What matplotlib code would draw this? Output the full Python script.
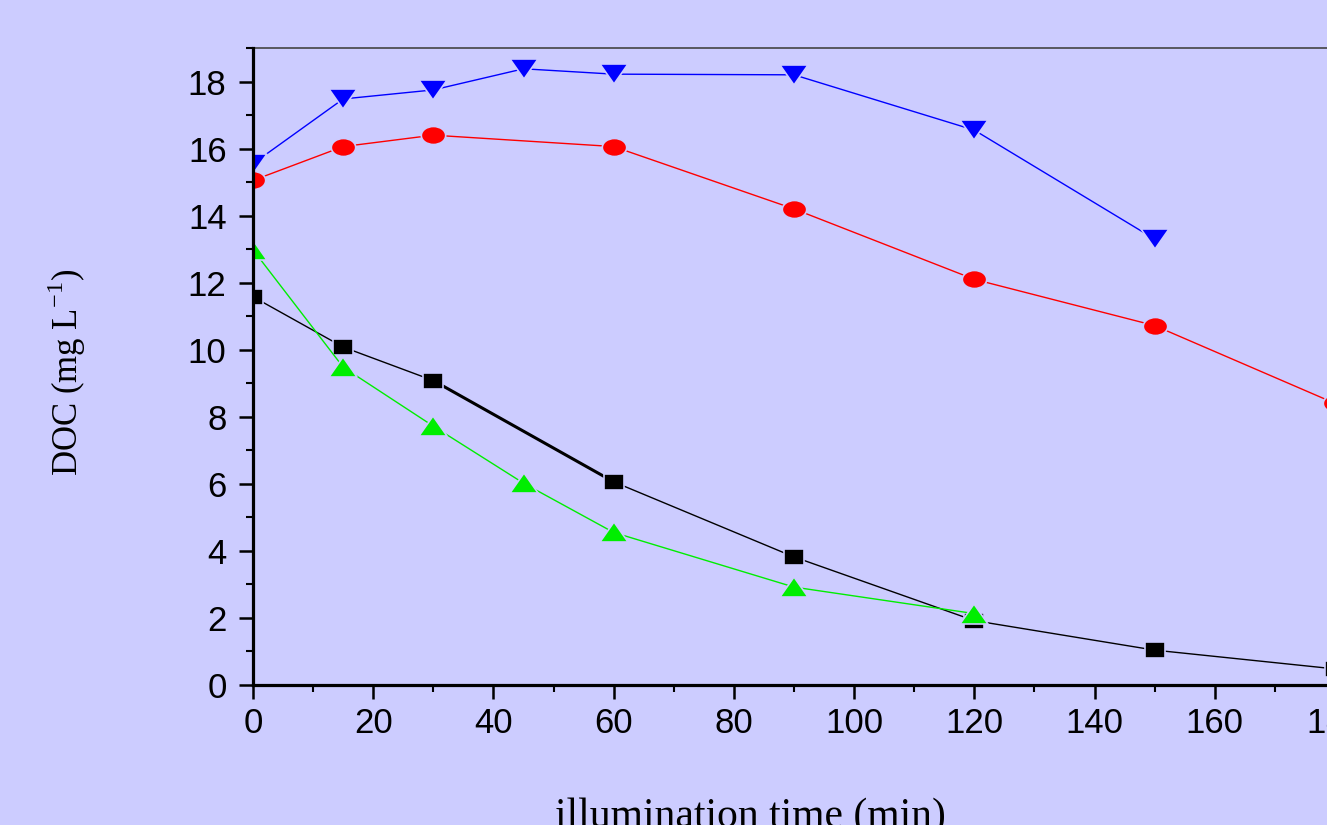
import matplotlib.pyplot as plt
from matplotlib.markers import MarkerStyle
from matplotlib.transforms import Affine2D
from matplotlib.ticker import MultipleLocator

# data
time_blue = [0, 15, 30, 45, 60, 90, 120, 150]
doc_blue = [15.55, 17.48, 17.75, 18.38, 18.22, 18.2, 16.55, 13.3]

time_red = [0, 15, 30, 60, 90, 120, 150, 180]
doc_red = [15.05, 16.06, 16.4, 16.06, 14.2, 12.1, 10.72, 8.4]

time_black = [0, 15, 30, 60, 90, 120, 150, 180]
doc_black = [11.58, 10.08, 9.08, 6.06, 3.82, 1.92, 1.04, 0.48]

time_green = [0, 15, 30, 45, 60, 90, 120]
doc_green = [12.98, 9.48, 7.72, 6.02, 4.55, 2.92, 2.13]

bg = '#ccccff'

# markers in the original are a bit wider than tall
def wide(m, sx):
    return MarkerStyle(m, transform=Affine2D().scale(sx, 1.0))

fig = plt.figure(figsize=(13.27, 8.25), dpi=100, facecolor=bg)
ax = fig.add_axes([253 / 1327, 140 / 825, 1082 / 1327, 637 / 825])
ax.set_facecolor(bg)

style = dict(markeredgecolor=bg, markeredgewidth=1.2, linewidth=1.0, zorder=3)
ax.plot(time_blue, doc_blue, color='#0000ff', marker=wide('v', 1.45), markersize=14,
        markerfacecolor='#0000ff', **style)
ax.plot(time_red, doc_red, color='#ff0000', marker=wide('o', 1.35), markersize=13,
        markerfacecolor='#ff0000', **style)
ax.plot(time_black, doc_black, color='black', marker=wide('s', 1.3), markersize=11.5,
        markerfacecolor='black', **style)
# the 30-60 min black segment is drawn heavier in the original
ax.plot(time_black[2:4], doc_black[2:4], color='black', linewidth=2.2, zorder=2)
ax.plot(time_green, doc_green, color='#00ee00', marker=wide('^', 1.45), markersize=14,
        markerfacecolor='#00ee00', **style)

ax.set_xlim(0, 180)
ax.set_ylim(0, 19)
ax.xaxis.set_major_locator(MultipleLocator(20))
ax.xaxis.set_minor_locator(MultipleLocator(10))
ax.yaxis.set_major_locator(MultipleLocator(2))
ax.yaxis.set_minor_locator(MultipleLocator(1))

for side in ['left', 'bottom']:
    ax.spines[side].set_linewidth(2.3)
    ax.spines[side].set_zorder(4)
ax.spines['top'].set_linewidth(1.2)
ax.spines['top'].set_color('#444444')
ax.spines['right'].set_visible(False)

ax.tick_params(which='major', direction='out', length=10, width=1.8, labelsize=25,
               top=False, right=False)
ax.tick_params(which='minor', direction='out', length=5, width=1.5, top=False, right=False)
ax.tick_params(axis='y', pad=9)
ax.tick_params(axis='x', pad=6)
for lab in ax.get_xticklabels() + ax.get_yticklabels():
    lab.set_fontfamily('Liberation Sans')

ax.set_xlabel('illumination time (min)', fontsize=30, fontfamily='Liberation Serif')
ax.xaxis.set_label_coords(497 / 1082, -112 / 637)
ax.set_ylabel('DOC (mg L$^{\\mathregular{-1}}$)', fontsize=25, fontfamily='Liberation Serif')
ax.yaxis.set_label_coords(-165 / 1082, 313 / 637)

fig.savefig('out.png', dpi=100, facecolor=bg)
